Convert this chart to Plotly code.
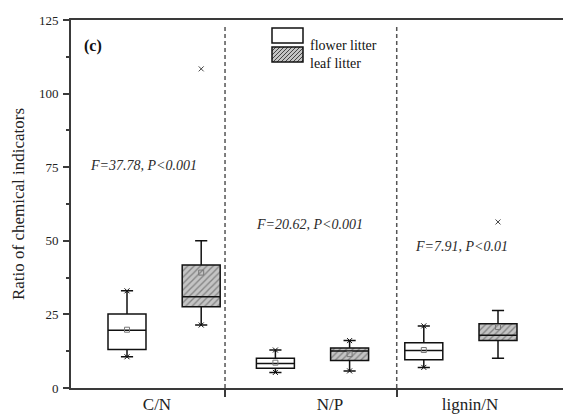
import plotly.graph_objects as go

# ---- data ----
categories = ["C/N", "N/P", "lignin/N"]
flower_pos = [1, 3, 5]
leaf_pos = [2, 4, 6]

flower_q1 = [13.1, 6.7, 9.6]
flower_median = [19.6, 8.3, 12.7]
flower_q3 = [25.1, 10.1, 15.4]
flower_low = [10.6, 5.3, 7.0]
flower_high = [33.0, 12.9, 21.1]
flower_mean = [19.8, 8.6, 12.9]

leaf_q1 = [27.6, 9.3, 16.1]
leaf_median = [31.0, 12.6, 17.9]
leaf_q3 = [41.8, 13.6, 21.8]
leaf_low = [21.4, 5.8, 10.1]
leaf_high = [50.0, 16.1, 26.3]
leaf_mean = [39.2, 11.5, 20.7]

outlier_x = [2, 6]
outlier_y = [108.4, 56.4]

stats_text = ["F=37.78, P<0.001", "F=20.62, P<0.001", "F=7.91, P<0.01"]
stats_x = [1.222, 3.453, 5.508]
stats_y = [75.7, 55.4, 48.2]

label_pos = [1.404, 3.736, 5.623]
divider_pos = [2.321, 4.635]

FONT = "Liberation Serif"
BOXW = 0.512
HATCH_BG = "#c4c4c4"
HATCH_FG = "#444444"

fig = go.Figure()

# hatched fill for leaf boxes
fig.add_trace(go.Bar(
    x=leaf_pos, y=[h - l for h, l in zip(leaf_q3, leaf_q1)], base=leaf_q1,
    width=BOXW, showlegend=False, hoverinfo="skip",
    marker=dict(color=HATCH_BG, line=dict(width=0),
                pattern=dict(shape="/", fgcolor=HATCH_FG, bgcolor=HATCH_BG,
                             size=4.5, solidity=0.3)),
))

for pos, q1, md, q3, lo, hi, fc in (
    [(flower_pos, flower_q1, flower_median, flower_q3, flower_low, flower_high, "white"),
     (leaf_pos, leaf_q1, leaf_median, leaf_q3, leaf_low, leaf_high, "rgba(0,0,0,0)")]):
    fig.add_trace(go.Box(
        x=pos, q1=q1, median=md, q3=q3, lowerfence=lo, upperfence=hi,
        width=BOXW, whiskerwidth=0.32, fillcolor=fc, boxpoints=False,
        line=dict(color="#111", width=1.5), showlegend=False, hoverinfo="skip",
    ))

# whisker-end markers
fig.add_trace(go.Scatter(
    x=flower_pos + flower_pos + leaf_pos[:2] + leaf_pos[1:2],
    y=flower_low + flower_high + leaf_low[:2] + leaf_high[1:2],
    mode="markers", showlegend=False, hoverinfo="skip",
    marker=dict(symbol="x-thin-open", size=5, color="#111", line=dict(color="#111", width=1)),
))
# means
fig.add_trace(go.Scatter(
    x=flower_pos + leaf_pos, y=flower_mean + leaf_mean, mode="markers",
    showlegend=False, hoverinfo="skip",
    marker=dict(symbol="square-open", size=5, color="#777", line=dict(color="#777", width=1)),
))
# outliers
fig.add_trace(go.Scatter(
    x=outlier_x, y=outlier_y, mode="markers", showlegend=False, hoverinfo="skip",
    marker=dict(symbol="x-thin-open", size=5, color="#444", line=dict(color="#444", width=1)),
))

# ---- layout geometry ----
L, T, W, H = 71, 20, 563, 415
PW, PH = W - L, H - T - 27


def px(xp):
    return (xp - L) / PW


def py(yp):
    return (T + PH - yp) / PH


shapes = []
for d in divider_pos:
    shapes.append(dict(type="line", xref="x", yref="paper", x0=d, x1=d, y0=0, y1=0.985,
                       line=dict(color="#555", width=1.5, dash="4px,3px")))

# legend swatches
sx0, sx1 = 272, 303
shapes.append(dict(type="rect", xref="paper", yref="paper", x0=px(sx0), x1=px(sx1),
                   y0=py(43), y1=py(28), fillcolor="white", line=dict(color="#111", width=1.5)))
shapes.append(dict(type="rect", xref="paper", yref="paper", x0=px(sx0), x1=px(sx1),
                   y0=py(62), y1=py(47), fillcolor=HATCH_BG, line=dict(width=0), layer="above"))
ytop, ybot = 47, 62
hgt = ybot - ytop
c = sx0 - hgt
while c < sx1:
    x0, y0 = c, ybot
    x1, y1 = c + hgt, ytop
    if x0 < sx0:
        t = sx0 - x0
        x0, y0 = sx0, ybot - t
    if x1 > sx1:
        t = x1 - sx1
        x1, y1 = sx1, ytop + t
    if x0 < x1:
        shapes.append(dict(type="line", xref="paper", yref="paper", x0=px(x0), x1=px(x1),
                           y0=py(y0), y1=py(y1), line=dict(color=HATCH_FG, width=1), layer="above"))
    c += 4
shapes.append(dict(type="rect", xref="paper", yref="paper", x0=px(sx0), x1=px(sx1),
                   y0=py(62), y1=py(47), line=dict(color="#111", width=1.5), layer="above"))

annotations = []
for t, x, y in zip(stats_text, stats_x, stats_y):
    annotations.append(dict(x=x, y=y, xref="x", yref="y", text=f"<i>{t}</i>", showarrow=False,
                            font=dict(family=FONT, size=14, color="#2a2a2a")))
annotations.append(dict(x=px(82), y=py(35), xref="paper", yref="paper", xanchor="left",
                        text="<b>(c)</b>", showarrow=False,
                        font=dict(family=FONT, size=16, color="#111")))
annotations.append(dict(x=px(308), y=py(36), xref="paper", yref="paper", xanchor="left",
                        text="flower litter", showarrow=False,
                        font=dict(family=FONT, size=14, color="#111")))
annotations.append(dict(x=px(308), y=py(54), xref="paper", yref="paper", xanchor="left",
                        text="leaf litter", showarrow=False,
                        font=dict(family=FONT, size=14, color="#111")))

fig.update_layout(
    width=W, height=H, margin=dict(l=L, r=0, t=T, b=27),
    plot_bgcolor="white", paper_bgcolor="white",
    barmode="overlay", boxmode="overlay", showlegend=False,
    shapes=shapes, annotations=annotations,
    font=dict(family=FONT, color="#222"),
)
fig.update_xaxes(
    range=[0.2453, 6.876], tickmode="array", tickvals=label_pos, ticktext=categories,
    ticks="", showgrid=False, zeroline=False, showline=True, linecolor="#3a3a3a",
    linewidth=2, mirror=True, tickfont=dict(family=FONT, size=17, color="#222"),
    minor=dict(tickmode="array", tickvals=divider_pos, ticks="outside", ticklen=7,
               tickwidth=1.5, tickcolor="#3a3a3a", showgrid=False),
)
fig.update_yaxes(
    range=[0, 125], tickmode="array", tickvals=[0, 25, 50, 75, 100, 125],
    ticks="outside", ticklen=6, tickwidth=1.5, tickcolor="#3a3a3a",
    showgrid=False, zeroline=False, showline=True, linecolor="#3a3a3a", linewidth=2,
    tickfont=dict(family=FONT, size=13, color="#222"), ticklabelstandoff=2,
    minor=dict(dtick=12.5, tick0=0, ticks="outside", ticklen=3, tickwidth=1.5,
               tickcolor="#3a3a3a", showgrid=False),
    title=dict(text="Ratio of chemical indicators", standoff=10,
               font=dict(family=FONT, size=17, color="#222")),
)

fig.write_html("out.html", config={"displayModeBar": False},
               post_script="document.body.style.margin='0px';")
